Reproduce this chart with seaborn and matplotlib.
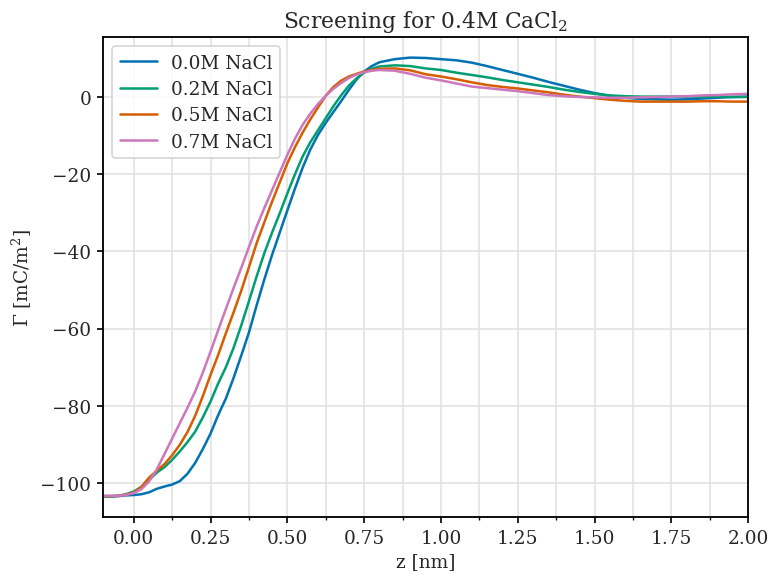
import numpy as np
import pandas as pd
import matplotlib
matplotlib.use("Agg")
import matplotlib.pyplot as plt
from matplotlib.ticker import MultipleLocator
import seaborn as sns

z = [-0.1, -0.075, -0.05, -0.025, 0.0, 0.025, 0.05, 0.075, 0.1, 0.125, 0.15, 0.175,
     0.2, 0.225, 0.25, 0.275, 0.3, 0.325, 0.35, 0.375, 0.4, 0.425, 0.45, 0.475,
     0.5, 0.525, 0.55, 0.575, 0.6, 0.625, 0.65, 0.675, 0.7, 0.725, 0.75, 0.775,
     0.8, 0.85, 0.9, 0.95, 1.0, 1.05, 1.1, 1.15, 1.2, 1.25, 1.3, 1.35, 1.4, 1.45,
     1.5, 1.55, 1.6, 1.65, 1.7, 1.75, 1.8, 1.85, 1.9, 1.95, 2.0]

gamma_00 = [-103.5, -103.5, -103.4, -103.2, -103.1, -102.9, -102.4, -101.5, -100.9, -100.4, -99.5, -97.6,
            -94.8, -91.2, -87.2, -82.4, -78.1, -72.8, -67.0, -61.0, -54.0, -47.3, -41.0, -35.2,
            -29.4, -23.7, -18.3, -13.6, -9.8, -6.7, -3.9, -1.1, 1.8, 4.5, 6.6, 8.0,
            9.0, 9.8, 10.2, 10.1, 9.8, 9.5, 8.9, 8.0, 7.0, 6.0, 5.0, 3.9, 2.9, 1.9,
            1.0, 0.3, -0.2, -0.5, -0.6, -0.7, -0.6, -0.4, -0.2, 0.0, 0.1]

gamma_02 = [-103.4, -103.4, -103.3, -102.9, -102.2, -101.0, -99.2, -97.3, -95.9, -94.0, -91.8, -89.4,
            -86.7, -83.0, -78.9, -74.2, -70.0, -65.0, -59.2, -52.9, -46.5, -40.5, -35.2, -30.2,
            -25.0, -20.0, -15.4, -11.7, -8.6, -5.5, -2.4, 0.4, 2.9, 4.8, 6.3, 7.3,
            7.9, 8.2, 8.0, 7.4, 7.0, 6.3, 5.7, 5.1, 4.4, 3.8, 3.2, 2.6, 1.9, 1.3,
            0.8, 0.4, 0.2, 0.1, 0.1, 0.1, 0.1, 0.1, 0.1, 0.0, 0.0]

gamma_05 = [-103.4, -103.4, -103.3, -103.0, -102.5, -101.0, -98.6, -96.8, -95.1, -92.8, -90.1, -86.8,
            -82.6, -77.5, -72.0, -66.8, -61.2, -55.8, -50.2, -44.1, -37.9, -32.5, -27.2, -22.2,
            -17.2, -13.0, -9.2, -5.8, -2.7, 0.3, 2.6, 4.2, 5.3, 6.0, 6.6, 7.0,
            7.3, 7.4, 6.9, 5.9, 5.3, 4.6, 3.8, 3.1, 2.6, 2.2, 1.7, 1.2, 0.6, 0.1,
            -0.3, -0.7, -1.0, -1.2, -1.2, -1.2, -1.2, -1.1, -1.1, -1.2, -1.2]

gamma_07 = [-103.3, -103.3, -103.3, -103.1, -102.6, -101.6, -99.6, -96.5, -92.5, -88.5, -84.5, -80.5,
            -76.3, -71.4, -66.0, -60.4, -54.9, -49.5, -44.3, -38.9, -33.6, -28.8, -24.2, -19.6,
            -15.0, -10.8, -7.2, -4.3, -1.8, 0.3, 2.1, 3.6, 4.9, 5.8, 6.4, 6.8,
            7.0, 6.8, 6.0, 5.0, 4.3, 3.5, 2.7, 2.3, 1.9, 1.5, 1.0, 0.5, 0.2, 0.0,
            -0.1, -0.2, -0.2, -0.1, 0.0, 0.1, 0.2, 0.4, 0.5, 0.7, 0.8]

labels = ["0.0M NaCl", "0.2M NaCl", "0.5M NaCl", "0.7M NaCl"]
series = [gamma_00, gamma_02, gamma_05, gamma_07]

df = pd.concat([pd.DataFrame({"z": z, "gamma": s, "label": lab})
                for s, lab in zip(series, labels)], ignore_index=True)

sns.set_theme(style="ticks")
plt.rcParams["font.family"] = ["DejaVu Serif"]
plt.rcParams["mathtext.fontset"] = "dejavuserif"

cb = sns.color_palette("colorblind")
palette = {labels[0]: cb[0], labels[1]: cb[2], labels[2]: cb[3], labels[3]: cb[4]}

fig, ax = plt.subplots(figsize=(6.4, 4.8), dpi=120.8)
fig.subplots_adjust(left=0.1332, right=0.9677, top=0.9345, bottom=0.1069)
sns.lineplot(data=df, x="z", y="gamma", hue="label", palette=palette,
             linewidth=1.5, ax=ax, sort=False)

ax.set_xlim(-0.1, 2.0)
ax.set_ylim(-108.8, 15.5)
ax.xaxis.set_major_locator(MultipleLocator(0.25))
ax.xaxis.set_minor_locator(MultipleLocator(0.125))
ax.yaxis.set_major_locator(MultipleLocator(20))
ax.grid(True, which="both", axis="x", color="#e0e0e0", linewidth=0.9)
ax.grid(True, which="major", axis="y", color="#e0e0e0", linewidth=0.9)
ax.set_axisbelow(True)
for sp in ax.spines.values():
    sp.set_visible(True)
    sp.set_color("black")
    sp.set_linewidth(1.1)
ax.tick_params(axis="both", which="major", length=3.5, width=1.0, labelsize=11, color="black")
ax.tick_params(axis="x", which="minor", length=2.0, width=0.8, color="black")

ax.set_xlabel("z [nm]", fontsize=11, labelpad=3)
ax.set_ylabel(r"$\Gamma$ [mC/m$^2$]", fontsize=11)
ax.set_title(r"Screening for 0.4M CaCl$_2$", fontsize=13)

leg = ax.legend(loc="upper left", fontsize=11, frameon=True, labelspacing=0.45)
leg.get_frame().set_edgecolor("#cccccc")
leg.set_title(None)

fig.savefig("out.png", dpi=120.8)
